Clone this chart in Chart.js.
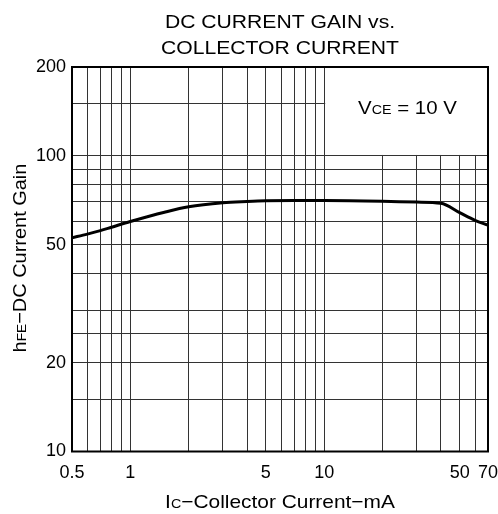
<!DOCTYPE html>
<html>
<head>
<meta charset="utf-8">
<script src="https://cdn.jsdelivr.net/npm/chart.js@4.4.1/dist/chart.umd.min.js"></script>
<style>
  html, body { margin: 0; padding: 0; background: #fff; }
  #wrap { width: 498px; height: 514px; position: relative; }
</style>
</head>
<body>
<div id="wrap"><canvas id="c" width="498" height="514"></canvas></div>
<script>
// ---- data ----
const currentMA = [0.5, 0.6, 0.7, 0.8, 1, 1.5, 2, 3, 4, 5, 7, 10, 20, 30, 40, 50, 60, 70];
const gainHFE   = [52.9, 54.4, 55.9, 57.4, 60, 64.5, 67.3, 69.4, 70.1, 70.5, 70.7, 70.7, 70.3, 69.8, 69.2, 64.3, 60.6, 58.3];

const gridX  = [0.5, 0.6, 0.7, 0.8, 0.9, 1, 2, 3, 4, 5, 6, 7, 8, 9, 10, 20, 30, 40, 50, 60, 70];
const labelX = [0.5, 1, 5, 10, 50, 70];
const gridY  = [10, 15, 20, 25, 30, 40, 50, 60, 70, 80, 90, 100, 150, 200];
const labelY = [10, 20, 50, 100, 200];

const titleLines = ["DC CURRENT GAIN vs.", "COLLECTOR CURRENT"];
const xTitleRuns = [["I", 19], ["C", 13], ["\u2212Collector Current\u2212mA", 19]];
const yTitleRuns = [["h", 19], ["FE", 13], ["\u2212DC Current Gain", 19]];
const condRuns   = [["V", 18.6], ["CE", 13], [" = 10 V", 18.6]];
const blankBox   = { x0: 10, x1: 70, y0: 100, y1: 200 };

const FONT = '"Liberation Sans", Arial, Helvetica, sans-serif';

function drawRuns(ctx, runs, x, y, align, sx) {
  ctx.save();
  ctx.translate(x, y);
  ctx.scale(sx || 1, 1);
  let total = 0;
  const widths = runs.map(r => { ctx.font = r[1] + 'px ' + FONT; const w = ctx.measureText(r[0]).width; total += w; return w; });
  let cx = align === 'center' ? -total / 2 : 0;
  ctx.textBaseline = 'alphabetic';
  ctx.textAlign = 'left';
  runs.forEach((r, i) => { ctx.font = r[1] + 'px ' + FONT; ctx.fillText(r[0], cx, 0); cx += widths[i]; });
  ctx.restore();
}

const decor = {
  id: 'decor',
  beforeDatasetsDraw(chart) {
    const { ctx, chartArea: a, scales: { x, y } } = chart;
    ctx.save();
    ctx.fillStyle = '#fff';
    const l = x.getPixelForValue(blankBox.x0) + 1;
    const t = a.top;
    const b = y.getPixelForValue(blankBox.y0) - 1;
    ctx.fillRect(l, t, a.right - l, b - t);
    ctx.restore();
  },
  afterDatasetsDraw(chart) {
    const { ctx, chartArea: a } = chart;
    ctx.save();
    ctx.strokeStyle = '#000';
    ctx.lineWidth = 2;
    ctx.strokeRect(a.left, a.top, a.right - a.left, a.bottom - a.top);
    ctx.restore();
  },
  afterDraw(chart) {
    const { ctx, chartArea: a } = chart;
    const cx = (a.left + a.right) / 2;
    ctx.save();
    ctx.fillStyle = '#000';
    drawRuns(ctx, [[titleLines[0], 18.6]], cx, 28.3, 'center', 1.137);
    drawRuns(ctx, [[titleLines[1], 18.6]], cx, 53.5, 'center', 1.137);
    drawRuns(ctx, xTitleRuns, cx, 508, 'center', 1.1);
    drawRuns(ctx, condRuns, 358, 113.5, 'left', 1.1);
    ctx.translate(26, 258);
    ctx.rotate(-Math.PI / 2);
    drawRuns(ctx, yTitleRuns, 0, 0, 'center', 1.05);
    ctx.restore();
  }
};

new Chart(document.getElementById('c'), {
  type: 'scatter',
  data: {
    datasets: [{
      data: currentMA.map((v, i) => ({ x: v, y: gainHFE[i] })),
      showLine: true,
      borderColor: '#000',
      borderWidth: 3,
      pointRadius: 0,
      cubicInterpolationMode: 'monotone',
      fill: false
    }]
  },
  options: {
    responsive: false,
    animation: false,
    layout: { padding: { top: 67, right: 0, left: 0, bottom: 0 } },
    plugins: { legend: { display: false }, tooltip: { enabled: false }, title: { display: false } },
    scales: {
      x: {
        type: 'logarithmic',
        min: 0.5, max: 70,
        afterBuildTicks(s) { s.ticks = gridX.map(v => ({ value: v })); },
        afterFit(s) { s.height = 62.5; s.paddingLeft = 0; s.paddingRight = 10; },
        ticks: {
          autoSkip: false, maxRotation: 0, minRotation: 0, padding: 11,
          color: '#000', font: { family: FONT, size: 18 },
          callback: (v) => labelX.includes(v) ? String(v) : ''
        },
        grid: { color: '#333', lineWidth: 1, drawTicks: false },
        border: { display: false }
      },
      y: {
        type: 'logarithmic',
        min: 10, max: 200,
        afterBuildTicks(s) { s.ticks = gridY.map(v => ({ value: v })); },
        afterFit(s) { s.width = 72; s.paddingTop = 0; s.paddingBottom = 0; },
        ticks: {
          autoSkip: false, padding: 6,
          color: '#000', font: { family: FONT, size: 18 },
          callback: (v) => labelY.includes(v) ? String(v) : ''
        },
        grid: { color: '#333', lineWidth: 1, drawTicks: false },
        border: { display: false }
      }
    }
  },
  plugins: [decor]
});
</script>
</body>
</html>
